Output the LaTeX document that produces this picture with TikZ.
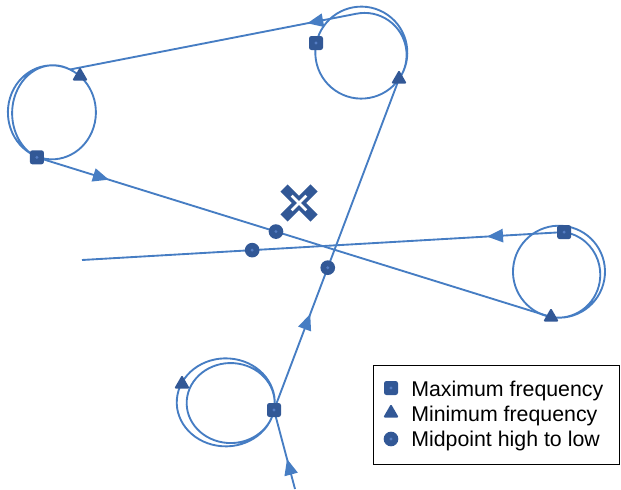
\documentclass[tikz,border=0pt]{standalone}
\usepackage{fontspec}
\setmainfont{Liberation Sans}
\usetikzlibrary{shapes.geometric,shapes.misc,decorations.markings,arrows.meta}
\definecolor{tracecol}{RGB}{70,125,195}
\definecolor{markcol}{RGB}{50,88,150}
\definecolor{dotcol}{RGB}{85,125,195}
\tikzset{
  trace/.style={draw=tracecol, line width=1.4pt},
  midarrow/.style={postaction={decorate}, decoration={markings,
      mark=at position #1 with {\arrow{Triangle[length=12pt,width=10pt]}}}},
  maxmark/.style={rectangle, rounded corners=1.8pt, fill=markcol, minimum size=10.5pt, inner sep=0pt,
      path picture={\fill[dotcol] (path picture bounding box.center) circle (1.2pt);}},
  minmark/.style={regular polygon, regular polygon sides=3, fill=markcol, minimum size=13.5pt,
      inner sep=0pt, rounded corners=1pt},
  midmark/.style={circle, fill=markcol, minimum size=11pt, inner sep=0pt,
      path picture={\fill[dotcol] (path picture bounding box.center) circle (1.2pt);}},
  legtext/.style={anchor=base west, inner sep=0pt, font=\fontsize{16pt}{19pt}\selectfont}
}
\begin{document}
\begin{tikzpicture}[x=0.75pt, y=-0.75pt]
  \useasboundingbox (0,0) rectangle (621,489);
  \coordinate (s0) at (295,489);
  \coordinate (qA) at (274,410);
  \coordinate (tB) at (399,79);
  \coordinate (inC) at (70,69.5);
  \coordinate (tD) at (551,317);
  \coordinate (e0) at (82,260);
  \draw[trace, midarrow=0.38] (s0) -- (qA);
  \draw[trace] (qA) arc[start angle=10, delta angle=-360, x radius=49, y radius=44]
    arc[start angle=10, delta angle=-360, x radius=44, y radius=40];
  \draw[trace, midarrow=0.29] (qA) -- node[midmark, pos=0.43] (mA) {} (tB);
  \draw[trace] (tB) arc[start angle=35, delta angle=-360, radius=46]
    arc[start angle=35, end angle=-102, radius=42] coordinate (outB);
  \draw[trace, midarrow=0.17] (outB) -- (inC);
  \draw[trace] (inC) arc[start angle=-65.7, delta angle=-360, x radius=44, y radius=47]
    arc[start angle=-65.7, end angle=-246.7, x radius=41, y radius=48] coordinate (qC);
  \draw[trace, midarrow=0.14] (qC) -- node[midmark, pos=0.465] (mC) {} (tD);
  \draw[trace] (tD) arc[start angle=100, delta angle=-360, radius=46]
    arc[start angle=100, end angle=-82, x radius=42, y radius=43] coordinate (qD);
  \draw[trace, midarrow=0.16] (qD) -- node[midmark, pos=0.647] (mD) {} (e0);
  \node[maxmark] (qAm) at (qA) {};
  \node[minmark] (tAm) at (182,384) {};
  \node[minmark] (tBm) at (tB) {};
  \node[maxmark] (qBm) at (316,43) {};
  \node[minmark] (tCm) at (80,76) {};
  \node[maxmark] (qCm) at (qC) {};
  \node[minmark] (tDm) at (tD) {};
  \node[maxmark] (qDm) at (qD) {};
  \node[cross out, draw=markcol, line width=7.5pt, minimum size=15pt, inner sep=0pt] (cen) at (299,203) {};
  \node[cross out, draw=white, line width=2pt, minimum size=9pt, inner sep=0pt] (cenw) at (cen) {};
  \node[draw=black, line width=0.6pt, inner sep=0pt, minimum width=184.5pt, minimum height=74.25pt,
    anchor=north west] (legbox) at (373,365) {};
  \node[maxmark] (lgq) at (391,388) {};
  \node[minmark] (lgt) at (391,413) {};
  \node[midmark] (lgm) at (391,439) {};
  \node[legtext] (lgqt) at (411,396) {Maximum frequency};
  \node[legtext] (lgtt) at (411,421) {Minimum frequency};
  \node[legtext] (lgmt) at (411,446) {Midpoint high to low};
\end{tikzpicture}
\end{document}
